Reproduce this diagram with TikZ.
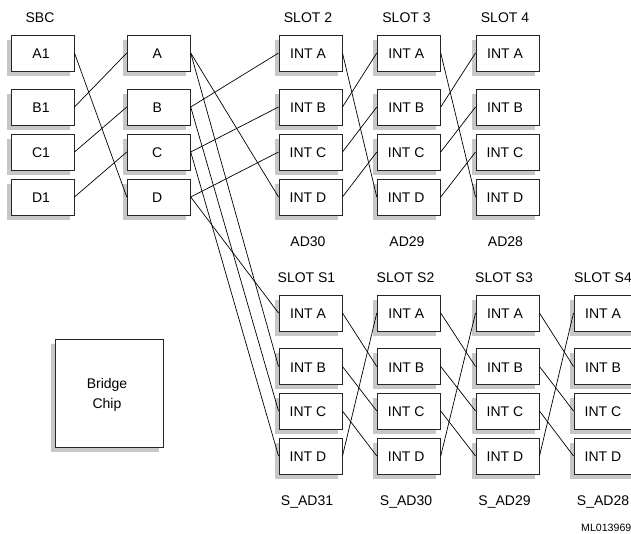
\documentclass[tikz,border=0pt]{standalone}
\usepackage{fontspec}
\setmainfont{Liberation Sans}
\usetikzlibrary{shadows}
\definecolor{shade}{gray}{0.78}
\tikzset{
  x=1pt,y=-1pt,
  card/.style={draw=black!85,line width=0.95pt,fill=white,inner sep=0pt,minimum width=63pt,minimum height=36pt,
    text height=11.2pt,text depth=0pt,
    font=\fontsize{14}{14}\selectfont,
    general shadow={fill=shade,draw=none,shadow xshift=-4.5pt,shadow yshift=-4.5pt}},
  chip/.style={draw=black!85,line width=0.95pt,fill=white,inner sep=0pt,minimum width=108pt,minimum height=108pt,
    align=center,font=\fontsize{14}{20}\selectfont,
    general shadow={fill=shade,draw=none,shadow xshift=-4.5pt,shadow yshift=-4.5pt}},
  caption/.style={inner sep=0pt,anchor=base,font=\fontsize{14}{14}\selectfont},
  tiny/.style={inner sep=0pt,anchor=base east,font=\fontsize{10.6}{11}\selectfont},
  wire/.style={draw=black,line width=0.7pt}
}
\newcommand{\lbl}[1]{#1\hspace*{5pt}}
\newcommand{\lbs}[1]{#1\hspace*{3pt}}
\begin{document}
\begin{tikzpicture}
\clip (0,0) rectangle (631,533);
\fill[white] (0,0) rectangle (631,533);
% SBC and central column
\node[card] (a1) at (42.5,53) {\lbs{A1}};
\node[card] (b1) at (42.5,107) {\lbs{B1}};
\node[card] (c1) at (42.5,152) {\lbs{C1}};
\node[card] (d1) at (42.5,197) {\lbs{D1}};
\node[card] (a) at (158.75,53) {\lbs{A}};
\node[card] (b) at (158.75,107) {\lbs{B}};
\node[card] (c) at (158.75,152) {\lbs{C}};
\node[card] (d) at (158.75,197) {\lbs{D}};
% upper slots
\foreach \n/\x in {p/310.5,q/408.75,r/507.5}{
  \node[card] (\n a) at (\x,53) {\lbl{INT A}};
  \node[card] (\n b) at (\x,107) {\lbl{INT B}};
  \node[card] (\n c) at (\x,152) {\lbl{INT C}};
  \node[card] (\n d) at (\x,197) {\lbl{INT D}};
}
% lower slots
\foreach \n/\x in {s/310.5,t/408.75,u/507.5,v/605.5}{
  \node[card] (\n a) at (\x,313) {\lbl{INT A}};
  \node[card] (\n b) at (\x,366.5) {\lbl{INT B}};
  \node[card] (\n c) at (\x,411) {\lbl{INT C}};
  \node[card] (\n d) at (\x,456) {\lbl{INT D}};
}
\node[chip] (bridge) at (109.5,393) {\rule{0pt}{14.2pt}\lbl{Bridge}\\\lbl{Chip}};
% captions
\node[caption] (tsbc) at (40,22.5) {SBC};
\node[caption] (t2) at (308,22.5) {SLOT 2};
\node[caption] (t3) at (406.5,22.5) {SLOT 3};
\node[caption] (t4) at (505,22.5) {SLOT 4};
\node[caption] (b2) at (308,246) {AD30};
\node[caption] (b3) at (407,246) {AD29};
\node[caption] (b4) at (505.5,246) {AD28};
\node[caption] (ts1) at (306.5,282) {SLOT S1};
\node[caption] (ts2) at (405.5,282) {SLOT S2};
\node[caption] (ts3) at (504,282) {SLOT S3};
\node[caption] (ts4) at (603,282) {SLOT S4};
\node[caption] (bs1) at (307,505) {S\_AD31};
\node[caption] (bs2) at (406,505) {S\_AD30};
\node[caption] (bs3) at (504.5,505) {S\_AD29};
\node[caption] (bs4) at (603,505) {S\_AD28};
\node[tiny] (ml) at (631.5,531) {ML013969};
% connectors
\foreach \f/\g in {a1/d,b1/a,c1/b,d1/c,
  a/pd,b/pa,c/pb,d/pc,
  d/sa,a/sb,b/sc,c/sd,
  pa/qd,pb/qa,pc/qb,pd/qc,
  qa/rd,qb/ra,qc/rb,qd/rc,
  sa/tb,sb/tc,sc/td,sd/ta,
  ta/ub,tb/uc,tc/ud,td/ua,
  ua/vb,ub/vc,uc/vd,ud/va}{
  \draw[wire] (\f.east) -- (\g.west);
}
\end{tikzpicture}
\end{document}
